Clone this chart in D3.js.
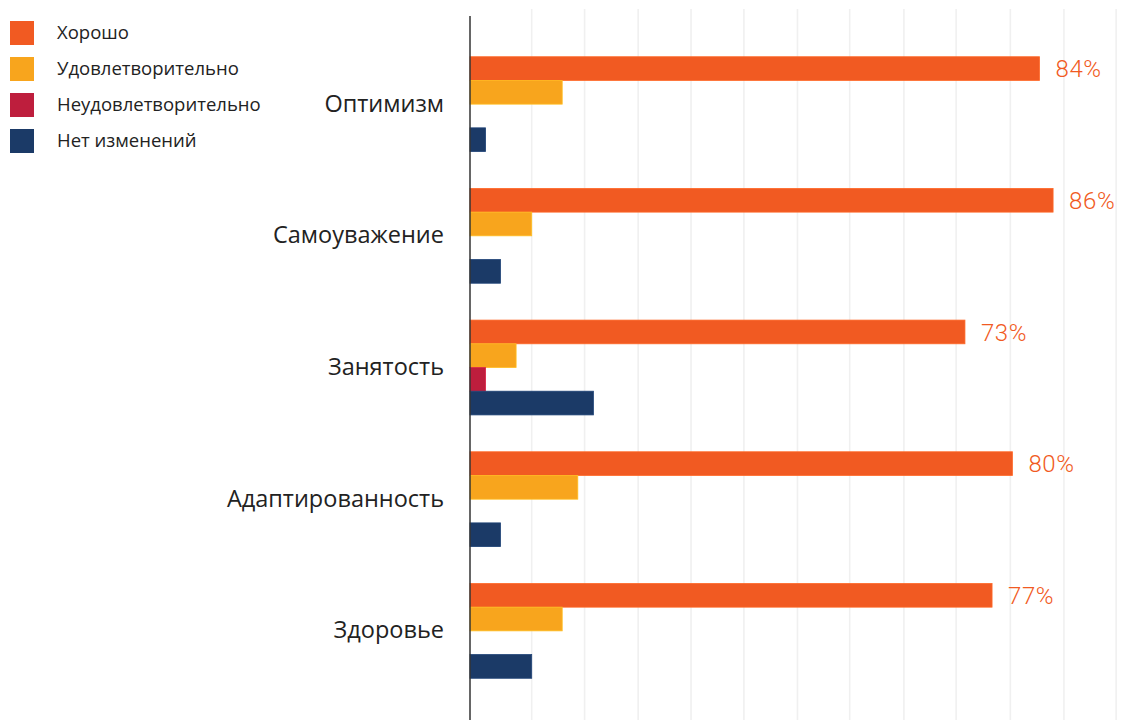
<!DOCTYPE html>
<html>
<head>
<meta charset="utf-8">
<script src="https://cdn.jsdelivr.net/npm/d3@7"></script>
<style>
  html, body { margin: 0; padding: 0; background: #fff; }
  svg { display: block; }
</style>
</head>
<body>
<svg id="chart" width="1121" height="720"></svg>
<script>
// Outcome categories (rows) and rating series (bars inside each row)
const categories = ["Оптимизм", "Самоуважение", "Занятость", "Адаптированность", "Здоровье"];
const seriesNames = ["Хорошо", "Удовлетворительно", "Неудовлетворительно", "Нет изменений"];

// Share of respondents, %
const good           = [84, 86, 73, 80, 77];
const satisfactory   = [13.6, 9.1, 6.8, 15.9, 13.6];
const unsatisfactory = [0, 0, 2.3, 0, 0];
const noChange       = [2.3, 4.5, 18.2, 4.5, 9.1];

// Vertical guide lines, in % units
const gridTicks = [9.1, 16.9, 24.8, 32.6, 40.4, 48.3, 56.0, 64.0, 71.7, 79.7, 87.6, 95.3];

const colors = ["#F15A22", "#F8A51D", "#BE1E3D", "#1B3A67"];

const seriesValues = [good, satisfactory, unsatisfactory, noChange];
const rows = categories.map((c, i) => ({
  category: c,
  values: seriesNames.map((s, j) => ({ series: s, value: seriesValues[j][i] }))
}));

const svg = d3.select("#chart");
const left = 470;
const chartBottom = 720;

const x = d3.scaleLinear().domain([0, 100]).range([left, left + 678]);
const y = d3.scaleBand().domain(categories).range([38.3, 696.7]).paddingInner(0.28).paddingOuter(0.14);
const ySub = d3.scaleBand().domain(seriesNames).range([0, y.bandwidth()]);

// grid
svg.append("g")
  .selectAll("line")
  .data(gridTicks)
  .join("line")
  .attr("x1", d => x(d)).attr("x2", d => x(d))
  .attr("y1", 9).attr("y2", chartBottom)
  .attr("stroke", "#f0f0f0")
  .attr("stroke-width", 1.6);

// bars
const groups = svg.append("g")
  .selectAll("g")
  .data(rows)
  .join("g")
  .attr("transform", d => `translate(0,${y(d.category)})`);

groups.selectAll("rect")
  .data(d => d.values.filter(v => v.value > 0))
  .join("rect")
  .attr("x", x(0))
  .attr("y", d => ySub(d.series))
  .attr("width", d => x(d.value) - x(0))
  .attr("height", ySub.bandwidth())
  .attr("fill", d => colors[seriesNames.indexOf(d.series)])
  .attr("stroke", d => d3.color(colors[seriesNames.indexOf(d.series)]).brighter(0.4))
  .attr("stroke-width", 0.8);

// value labels on the "Хорошо" bars
groups.append("text")
  .attr("x", d => x(d.values[0].value) + 16)
  .attr("y", ySub(seriesNames[0]) + ySub.bandwidth() / 2)
  .attr("dy", "0.36em")
  .attr("fill", "#F15A22")
  .style("font-family", "Roboto, sans-serif")
  .style("font-weight", "300")
  .style("font-size", "24px")
  .style("letter-spacing", "0.6px")
  .text(d => `${d.values[0].value}%`);

// category axis
const yAxis = d3.axisLeft(y).tickSize(0).tickPadding(26);
const axisG = svg.append("g")
  .attr("transform", `translate(${left},0)`)
  .call(yAxis);
axisG.select(".domain").remove();
axisG.selectAll("text")
  .attr("fill", "#222")
  .style("font-family", "'Open Sans', sans-serif")
  .style("font-size", "23.5px");

svg.append("line")
  .attr("x1", left).attr("x2", left)
  .attr("y1", 16).attr("y2", chartBottom)
  .attr("stroke", "#333")
  .attr("stroke-width", 1.5);

// legend
const legend = svg.append("g")
  .selectAll("g")
  .data(seriesNames)
  .join("g")
  .attr("transform", (d, i) => `translate(10,${21 + i * 36})`);
legend.append("rect")
  .attr("width", 24).attr("height", 24)
  .attr("fill", (d, i) => colors[i]);
legend.append("text")
  .attr("x", 47).attr("y", 12)
  .attr("dy", "0.35em")
  .attr("fill", "#222")
  .style("font-family", "'Open Sans', sans-serif")
  .style("font-size", "18.5px")
  .text(d => d);
</script>
</body>
</html>
